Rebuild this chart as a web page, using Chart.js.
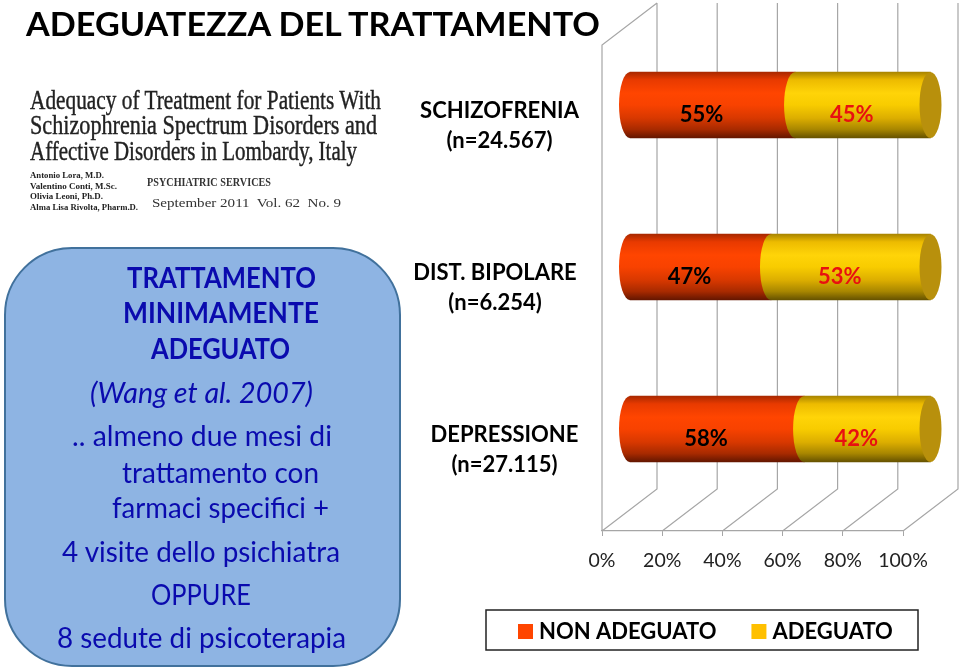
<!DOCTYPE html>
<html lang="it">
<head>
<meta charset="utf-8">
<style>
html,body{margin:0;padding:0;background:#fff;width:960px;height:669px;overflow:hidden}
#panel{position:absolute;left:4px;top:247px;width:393px;height:416px;background:#8EB4E3;border:2.5px solid #41719C;border-radius:68px;box-sizing:content-box}
canvas{position:absolute;left:0;top:0}
.t{position:absolute;white-space:pre;transform-origin:0 50%;line-height:1;font-variant-ligatures:none}
</style>
<script src="https://cdn.jsdelivr.net/npm/chart.js@4"></script>
</head>
<body>
<div id="panel"></div>
<canvas id="c" width="960" height="669"></canvas>
<script>
const categories = [["SCHIZOFRENIA","(n=24.567)"],["DIST. BIPOLARE","(n=6.254)"],["DEPRESSIONE","(n=27.115)"]];
const seriesNames = ["NON ADEGUATO","ADEGUATO"];
const nonAdeguato = [55,47,58];
const adeguato = [45,53,42];
const xTickValues = [0,20,40,60,80,100];

const mainTitle = "ADEGUATEZZA DEL TRATTAMENTO";
const paperTitle = ["Adequacy of Treatment for Patients With","Schizophrenia Spectrum Disorders and","Affective Disorders in Lombardy, Italy"];
const paperAuthors = ["Antonio Lora, M.D.","Valentino Conti, M.Sc.","Olivia Leoni, Ph.D.","Alma Lisa Rivolta, Pharm.D."];
const journalName = "PSYCHIATRIC SERVICES";
const journalDate = "September 2011  Vol. 62  No. 9";
const panelHead = ["TRATTAMENTO","MINIMAMENTE","ADEGUATO"];
const panelCite = "(Wang et al. 2007)";
const panelBody = [".. almeno due mesi di","trattamento con","farmaci specifici +","4 visite dello psichiatra","OPPURE","8 sedute di psicoterapia"];

/* ---- page text ---- */
function put(text,left,right,cy,font,color,stroke){
  const d=document.createElement('div');d.className='t';d.textContent=text;
  d.style.font=font;d.style.color=color;d.style.lineHeight='1';
  if(stroke) d.style.webkitTextStroke=stroke+'px '+color;
  d.style.left=left+'px';document.body.appendChild(d);
  const r=d.getBoundingClientRect();
  d.style.top=(cy-r.height/2)+'px';
  d.style.transform='scaleX('+((right-left)/r.width)+')';
  d.style.zIndex=5;
}
const SANS='Lato,"Open Sans",sans-serif', SERIF='"Liberation Serif",serif', BLUE='#0A0AAE';
put(mainTitle,26,600,23,'bold 33px '+SANS,'#000');
[[30,381,100],[30,377,125],[30,357,151]].forEach((p,i)=>put(paperTitle[i],p[0],p[1],p[2],'27px '+SERIF,'#222',0.4));
[[30,104,175],[30,117,186],[30,103,196],[30,138,207]].forEach((p,i)=>put(paperAuthors[i],p[0],p[1],p[2],'bold 8.5px '+SERIF,'#222'));
put(journalName,147,271,181,'bold 13px '+SERIF,'#333');
put(journalDate,152,341,202,'13px '+SERIF,'#333');
[[127,316,277],[123,319,312],[151,290,348]].forEach((p,i)=>put(panelHead[i],p[0],p[1],p[2],'bold 28px '+SANS,BLUE));
put(panelCite,90,313,392,'italic 28px '+SANS,BLUE);
[[72,332,435],[122,319,472],[112,329,507],[62,340,551],[151,251,594],[57,346,637]].forEach((p,i)=>put(panelBody[i],p[0],p[1],p[2],'28px '+SANS,BLUE));

/* ---- chart styling ---- */
const DEPTH_X=55, DEPTH_Y=42;           // 3D wall offset
const BAR_DX=DEPTH_X/2, BAR_DY=-DEPTH_Y/2, BAR_H=66, CAP_RX=11;
const GRID='#A6A6A6';
const redStops=[[0,'#A82800'],[.12,'#E83A00'],[.32,'#FF4500'],[.5,'#F84200'],[.7,'#D83800'],[.87,'#A82A00'],[1,'#641600']];
const yelStops=[[0,'#A88400'],[.12,'#EDBB00'],[.32,'#FFD408'],[.5,'#F8CC00'],[.7,'#DCAE00'],[.87,'#A88600'],[1,'#665200']];
const capColor='#B8900C';
const legendColors=['#FF4500','#FFC000'];
const labelColors=['#000000','#E81010'];
const LABEL_DX=-11, LABEL_DY=10;
const LABEL_CENTERS=[499.5,495,504.5];
const LEGEND_BOX=[486,610,432,40];

function cylinderFill(stops,base){
  return ctx=>{
    if(ctx.dataIndex===undefined) return base;
    const s=ctx.chart.scales.y;
    const y=s?s.getPixelForValue(ctx.dataIndex):NaN;
    if(!isFinite(y)) return base;
    const g=ctx.chart.ctx.createLinearGradient(0,y-BAR_H/2,0,y+BAR_H/2);
    stops.forEach(p=>g.addColorStop(p[0],p[1]));
    return g;
  };
}
const depthPlugin={
  id:'depth',
  afterLayout(chart){
    const l=chart.legend;
    l.left=483; l.right=960; l.top=580.5; l.bottom=650;
  },
  beforeDraw(chart){
    chart.scales.y.getLabelItems().forEach((it,i)=>{it.options.translation[0]=LABEL_CENTERS[i];});
  },
  beforeDatasetsDraw(chart){
    const c=chart.ctx,x=chart.scales.x,a=chart.chartArea;
    c.save();c.strokeStyle=GRID;c.lineWidth=1.2;c.beginPath();
    xTickValues.forEach(v=>{
      const px=x.getPixelForValue(v);
      c.moveTo(px,a.bottom);c.lineTo(px+DEPTH_X,a.bottom-DEPTH_Y);
      c.lineTo(px+DEPTH_X,a.top-DEPTH_Y);
    });
    const p0=x.getPixelForValue(0);
    c.moveTo(p0,a.bottom);c.lineTo(p0,a.top);c.lineTo(p0+DEPTH_X,a.top-DEPTH_Y);
    c.stroke();c.restore();
    c.save();c.translate(BAR_DX,BAR_DY);
  },
  afterDatasetsDraw(chart){
    const c=chart.ctx;
    chart.data.datasets.forEach((ds,di)=>{
      chart.getDatasetMeta(di).data.forEach(el=>{
        const h=el.height/2;
        c.fillStyle=el.options.backgroundColor;
        c.beginPath();c.ellipse(el.base,el.y,CAP_RX,h,0,0,Math.PI*2);c.fill();
        if(di===chart.data.datasets.length-1){
          c.fillStyle=capColor;
          c.beginPath();c.ellipse(el.x,el.y,CAP_RX,h,0,0,Math.PI*2);c.fill();
        }
      });
    });
    c.restore();
    c.save();c.textAlign='center';c.textBaseline='middle';c.font='bold 22px '+SANS;
    chart.data.datasets.forEach((ds,di)=>{
      c.fillStyle=labelColors[di];
      chart.getDatasetMeta(di).data.forEach((el,i)=>{
        c.fillText(ds.data[i]+'%',(el.base+el.x)/2+BAR_DX+LABEL_DX,el.y+BAR_DY+LABEL_DY);
      });
    });
    c.restore();
  },
  afterDraw(chart){
    const c=chart.ctx;c.save();c.strokeStyle='#222';c.lineWidth=1.5;
    c.strokeRect(...LEGEND_BOX);c.restore();
  }
};

new Chart(document.getElementById('c'),{
  type:'bar',
  data:{
    labels:categories,
    datasets:[
      {label:seriesNames[0],data:nonAdeguato,backgroundColor:cylinderFill(redStops,legendColors[0]),barThickness:BAR_H,clip:false},
      {label:seriesNames[1],data:adeguato,backgroundColor:cylinderFill(yelStops,legendColors[1]),barThickness:BAR_H,clip:false}
    ]
  },
  plugins:[depthPlugin],
  options:{
    indexAxis:'y',responsive:false,animation:false,devicePixelRatio:1,
    layout:{padding:{left:0,top:45,right:57,bottom:0}},
    plugins:{
      tooltip:{enabled:false},title:{display:false},
      legend:{
        display:true,position:'bottom',align:'start',
        labels:{
          color:'#000',font:{family:SANS,size:22,weight:'bold'},
          usePointStyle:true,pointStyle:'rect',boxWidth:5,boxHeight:15,padding:40,
          generateLabels(chart){
            return Chart.defaults.plugins.legend.labels.generateLabels(chart).map((it,i)=>Object.assign(it,{fillStyle:legendColors[i],strokeStyle:legendColors[i],lineWidth:0,pointStyle:'rect'}));
          }
        }
      }
    },
    scales:{
      x:{
        stacked:true,min:0,max:100,
        afterFit(s){s.height=66;},
        afterBuildTicks(s){s.ticks=xTickValues.map(v=>({value:v}));},
        grid:{drawOnChartArea:false,drawTicks:true,tickLength:5,color:GRID,tickColor:GRID},
        border:{display:true,color:GRID,width:1.2},
        ticks:{color:'#222',font:{family:SANS,size:19.5},padding:13,maxRotation:0,autoSkip:false,callback:v=>v+'%'}
      },
      y:{
        stacked:true,
        afterFit(s){s.width=602;},
        grid:{display:false},
        border:{display:false},
        ticks:{color:'#000',font:{family:SANS,size:22,weight:'bold',lineHeight:1.4},crossAlign:'center',padding:10}
      }
    }
  }
});
</script>
</body>
</html>
